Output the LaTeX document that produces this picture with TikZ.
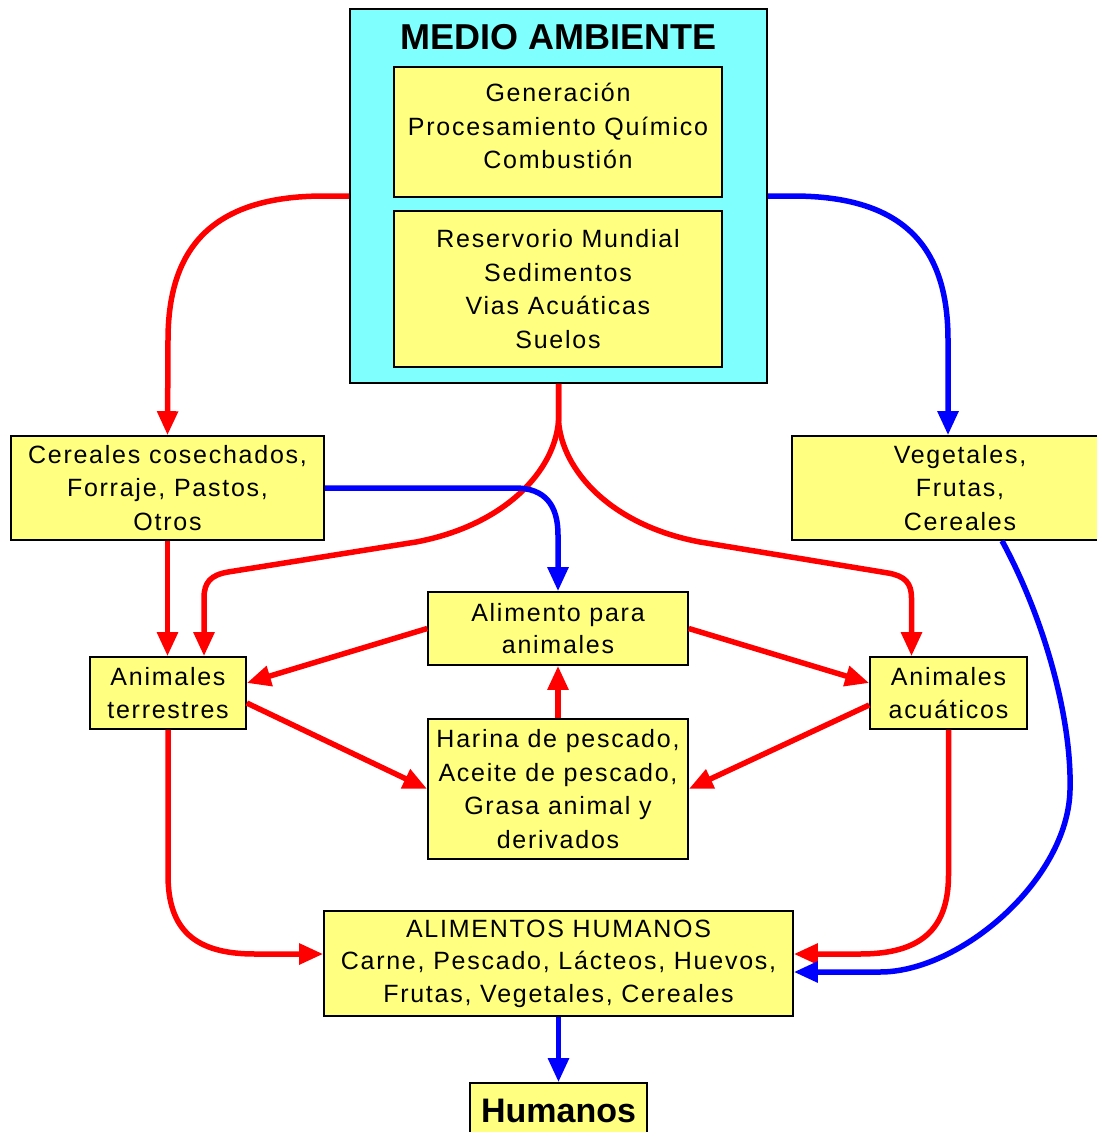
\documentclass[tikz,border=0pt]{standalone}
\usepackage{fontspec}
\setmainfont{Liberation Sans}[LetterSpace=7]
\newfontfamily\titlef{Liberation Sans}
\usetikzlibrary{arrows.meta}
\definecolor{boxyellow}{RGB}{255,255,128}
\definecolor{envcyan}{RGB}{128,255,255}
\definecolor{lred}{RGB}{255,0,0}
\definecolor{lblue}{RGB}{0,0,255}
\begin{document}
\begin{tikzpicture}[x=1pt,y=-1pt,
  box/.style={draw=black, line width=1.6pt, fill=boxyellow, inner sep=0pt, align=center, font=\fontsize{25}{33.5}\selectfont},
  redarrow/.style={draw=lred, line width=5.5pt, -{Triangle[length=24pt,width=20pt]}},
  bluearrow/.style={draw=lblue, line width=5.5pt, -{Triangle[length=24pt,width=20pt]}},
  boldtext/.style={font=\titlef\bfseries\fontsize{36}{40}\selectfont, inner sep=0pt}
  ]
\useasboundingbox (0,0) rectangle (1097,1132);
\clip (0,0) rectangle (1097,1132);
\fill[white] (0,0) rectangle (1097,1132);

% boxes
\node[draw=black, line width=1.6pt, fill=envcyan, minimum width=417pt, minimum height=374pt, inner sep=0pt] (env) at (558.5,196) {};
\node[boldtext] (title) at (558.5,37) {MEDIO AMBIENTE};
\node[box, minimum width=328pt, minimum height=130pt,
  label={[align=center, font=\fontsize{25}{33.5}\selectfont, inner sep=0pt, yshift=6pt]center:Generación\\Procesamiento Químico\\Combustión}] (gen) at (558,132) {};
\node[box, minimum width=328pt, minimum height=156pt] (res) at (558,289) {Reservorio Mundial\\Sedimentos\\Vias Acuáticas\\Suelos};
\node[box, minimum width=313pt, minimum height=104pt] (cer) at (167.5,488) {Cereales cosechados,\\Forraje, Pastos,\\Otros};
\node[box, minimum width=336pt, minimum height=104pt] (veg) at (960,488) {Vegetales,\\Frutas,\\Cereales};
\node[box, minimum width=260pt, minimum height=73pt, font=\fontsize{25}{32}\selectfont] (alim) at (558,628.5) {Alimento para\\animales};
\node[box, minimum width=156pt, minimum height=72pt] (terr) at (168,693) {Animales\\terrestres};
\node[box, minimum width=157pt, minimum height=72pt] (acua) at (948.5,693) {Animales\\acuáticos};
\node[box, minimum width=260pt, minimum height=140pt] (har) at (558,789) {Harina de pescado,\\Aceite de pescado,\\Grasa animal y\\derivados};
\node[box, minimum width=469pt, minimum height=105pt, font=\fontsize{25}{32.5}\selectfont] (hum) at (558.5,963.5) {ALIMENTOS HUMANOS\\Carne, Pescado, Lácteos, Huevos,\\Frutas, Vegetales, Cereales};
\node[box, minimum width=177pt, minimum height=56pt, font=\titlef\bfseries\fontsize{34}{38}\selectfont] (humanos) at (558.5,1111) {Humanos};

% connectors from the environment
\draw[redarrow] (env.west) -- ++(-25,0) .. controls (210,196) and (168,250) .. (168,340) -- (cer.north);
\draw[bluearrow] (env.east) -- ++(25,0) .. controls (907,196) and (948,250) .. (948,340) -- ([xshift=-12pt]veg.north);
\draw[redarrow] (env.south) -- ++(0,37) .. controls (555,470) and (506,525) .. (416,542) -- (228,572) .. controls (211,575) and (204,582) .. (204,598) -- ([xshift=36pt]terr.north);
\draw[redarrow] (env.south) -- ++(0,37) .. controls (562,470) and (610,525) .. (700,542) -- (888,573) .. controls (905,576) and (911.5,583) .. (911.5,598) -- ([xshift=-37pt]acua.north);

% middle
\draw[bluearrow] (cer.east) -- (515,488) .. controls (545,488) and (558,505) .. (558,535) -- (alim.north);
\draw[redarrow] (cer.south) -- (cer.south |- terr.north);
\draw[redarrow] (alim.west) -- ([yshift=10pt]terr.east);
\draw[redarrow] (alim.east) -- ([yshift=10pt]acua.west);
\draw[redarrow] ([yshift=-10pt]terr.east) -- (har.west);
\draw[redarrow] ([yshift=-12pt]acua.west) -- (har.east);
\draw[redarrow] (har.north) -- (alim.south);

% to human food
\draw[redarrow] (terr.south) -- (168,875) .. controls (168,930) and (195,954) .. (255,954) -- ([yshift=9.5pt]hum.west);
\draw[redarrow] (acua.south) -- (948.5,875) .. controls (948.5,930) and (920,954) .. (860,954) -- ([yshift=9.5pt]hum.east);
\draw[bluearrow] ([xshift=42pt]veg.south) .. controls (1045,620) and (1072,720) .. (1070,790) .. controls (1068,880) and (960,972) .. (880,972) -- ([yshift=-8.5pt]hum.east);
\draw[bluearrow] (hum.south) -- (humanos.north);
\end{tikzpicture}
\end{document}
